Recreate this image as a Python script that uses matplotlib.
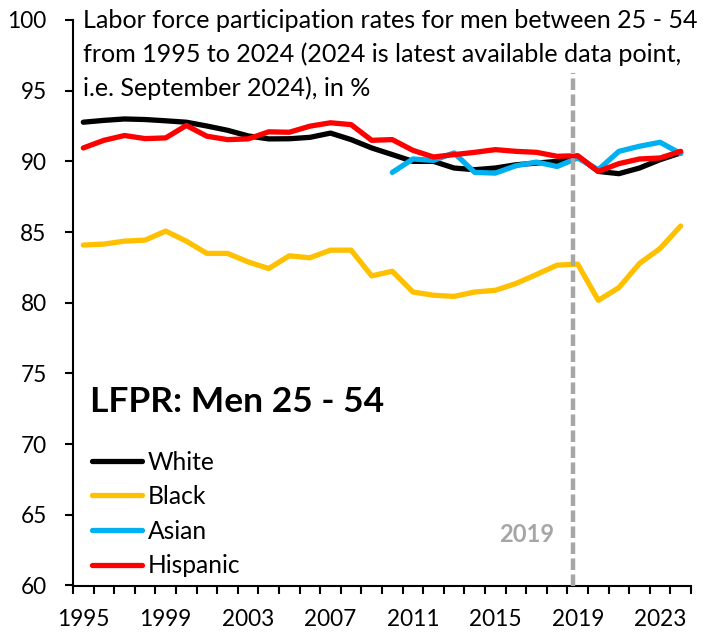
import matplotlib
matplotlib.use("Agg")
import matplotlib.pyplot as plt
from matplotlib.ticker import FixedLocator, MultipleLocator

years = list(range(1995, 2025))
white = [92.77, 92.9, 93.0, 92.96, 92.87, 92.77, 92.5, 92.2, 91.8, 91.59, 91.6, 91.7, 92.0,
         91.54, 90.95, 90.48, 90.0, 90.0, 89.53, 89.41, 89.53, 89.76, 89.88, 90.0, 90.36,
         89.29, 89.13, 89.53, 90.12, 90.6]
black = [84.08, 84.15, 84.36, 84.43, 85.07, 84.36, 83.49, 83.49, 82.89, 82.42, 83.32, 83.18,
         83.72, 83.72, 81.9, 82.23, 80.76, 80.53, 80.45, 80.76, 80.88, 81.36, 82.0, 82.66,
         82.73, 80.17, 81.07, 82.78, 83.84, 85.43]
asian_years = list(range(2010, 2025))
asian = [89.22, 90.17, 90.07, 90.6, 89.22, 89.17, 89.69, 89.95, 89.64, 90.24, 89.41, 90.71,
         91.07, 91.35, 90.55]
hispanic = [90.95, 91.49, 91.83, 91.61, 91.66, 92.54, 91.78, 91.54, 91.59, 92.09, 92.06, 92.49,
            92.73, 92.6, 91.49, 91.54, 90.78, 90.31, 90.48, 90.64, 90.83, 90.71, 90.64, 90.36,
            90.4, 89.29, 89.84, 90.17, 90.24, 90.71]
xtick_labels = [1995, 1999, 2003, 2007, 2011, 2015, 2019, 2023]
yticks = [60, 65, 70, 75, 80, 85, 90, 95, 100]
title_lines = ['Labor force participation rates for men between 25 - 54',
               'from 1995 to 2024 (2024 is latest available data point,',
               'i.e. September 2024), in %']

plt.rcParams['font.family'] = ['Lato', 'DejaVu Sans']

W, H = 715, 640
fig = plt.figure(figsize=(W / 100, H / 100), dpi=100)
renderer = fig.canvas.get_renderer()


def px_to_fig(x, y):
    return x / W, 1 - y / H


def fitted_size(text, target_w, weight='normal', base=20.0):
    t = fig.text(0, 0, text, fontsize=base, fontweight=weight)
    w = t.get_window_extent(renderer=renderer).width
    t.remove()
    return base * target_w / w


ax_l, ax_r, ax_t, ax_b = 73.0, 691.0, 20.0, 585.5
ax = fig.add_axes([ax_l / W, 1 - ax_b / H, (ax_r - ax_l) / W, (ax_b - ax_t) / H])

lw = 3.8
kw = dict(lw=lw, solid_capstyle='round', solid_joinstyle='round')
ax.plot(years, black, color='#FFC000', label='Black', zorder=3, **kw)
ax.plot(years, white, color='black', label='White', zorder=3, **kw)
ax.plot(asian_years, asian, color='#00B0F0', label='Asian', zorder=3, **kw)
ax.plot(years, hispanic, color='#FF0000', label='Hispanic', zorder=4, **kw)

ax.axvline(2018.75, ymin=0, ymax=(ax_b - 73) / (ax_b - ax_t), color='#A6A6A6', lw=3.2,
           dashes=(2.6, 1.0), zorder=5)

ax.set_xlim(1994.5, 2024.5)
ax.set_ylim(60, 100)

tick_fs = (fitted_size('1995', 53) + fitted_size('80', 26)) / 2
ax.xaxis.set_major_locator(FixedLocator(xtick_labels))
ax.xaxis.set_minor_locator(MultipleLocator(1, offset=0.5))
ax.tick_params(axis='x', which='major', length=0, pad=16, labelsize=tick_fs)
ax.tick_params(axis='x', which='minor', length=5.8, width=1.5, direction='out')
ax.set_yticks(yticks)
ax.tick_params(axis='y', which='major', length=5.8, width=1.5, direction='out',
               labelsize=tick_fs, pad=12)
for s in ['top', 'right']:
    ax.spines[s].set_visible(False)
for s in ['left', 'bottom']:
    ax.spines[s].set_linewidth(1.5)

title_fs = fitted_size(title_lines[0], 618)
for i, line in enumerate(title_lines):
    fig.text(*px_to_fig(83, 28.5 + 33.5 * i), line, fontsize=title_fs, va='baseline', ha='left')

big_fs = fitted_size('LFPR: Men 25 - 54', 294, weight='bold')
fig.text(*px_to_fig(90, 411.7), 'LFPR: Men 25 - 54', fontsize=big_fs, fontweight='bold',
         va='baseline', ha='left')

gray_fs = fitted_size('2019', 55, weight='bold')
fig.text(*px_to_fig(527, 535), '2019', color='#A6A6A6', fontsize=gray_fs, fontweight='bold',
         ha='center', va='center')

leg_fs = fitted_size('Hispanic', 93)
handles, labels = ax.get_legend_handles_labels()
order = [1, 0, 2, 3]


def make_legend(ls, top_y):
    return ax.legend([handles[i] for i in order], [labels[i] for i in order],
                     loc='upper left', bbox_to_anchor=px_to_fig(92, top_y),
                     bbox_transform=fig.transFigure,
                     frameon=False, fontsize=leg_fs, handlelength=50 / (leg_fs * 100 / 72),
                     handletextpad=6 / (leg_fs * 100 / 72),
                     labelspacing=ls, borderaxespad=0, borderpad=0)


ls, top_y = 0.3, 445.0
target_first, target_step = 462.0, 34.6
for _ in range(3):
    leg = make_legend(ls, top_y)
    fig.canvas.draw()
    cys = [H - (bb.y0 + bb.y1) / 2 for bb in
           (t.get_window_extent(renderer=renderer) for t in leg.get_texts())]
    step = (cys[-1] - cys[0]) / 3
    ls += (target_step - step) / (leg_fs * 100 / 72)
    top_y += target_first - cys[0]
    leg.remove()
leg = make_legend(ls, top_y)

fig.canvas.draw()
xl = ax.get_xticklabels()[0].get_window_extent(renderer=renderer)
cy = H - (xl.y0 + xl.y1) / 2
ax.tick_params(axis='x', which='major', pad=16 + (619.9 - cy) * 0.72)
yl = [t for t in ax.get_yticklabels() if t.get_text() == '80'][0].get_window_extent(renderer=renderer)
ax.tick_params(axis='y', which='major', pad=12 + (yl.x1 - 46.7) * 0.72)

fig.savefig('out.png', dpi=100)
